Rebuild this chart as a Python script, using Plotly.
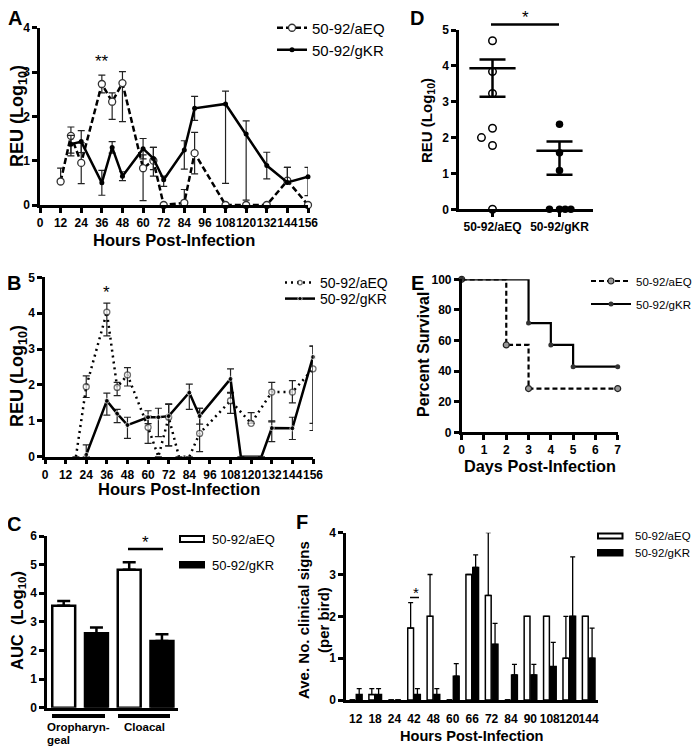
import plotly.graph_objects as go

# A: oropharyngeal shedding, REU (log10)
a_aeq_hours = [12, 18, 24, 36, 42, 48, 60, 66, 72, 84, 90, 108, 120, 132, 144, 156]
a_aeq_reu = [0.53, 1.56, 0.95, 2.73, 2.33, 2.75, 0.83, 1.0, 0, 0.05, 1.17, 0, 0, 0, 0.55, 0]
a_aeq_up = [0.30, 0.20, 0.45, 0.20, 0.20, 0.26, 0.30, 0.30, 0, 0.30, 0.47, 0, 0, 0, 0.30, 0]
a_aeq_dn = [0, 0.45, 0.47, 0.20, 0.40, 0.87, 0.73, 0.35, 0, 0, 0.47, 0, 0, 0, 0, 0]
a_gkr_hours = [18, 24, 36, 42, 48, 60, 66, 72, 84, 90, 108, 120, 132, 144, 156]
a_gkr_reu = [1.37, 1.43, 0.50, 1.30, 0.65, 1.27, 1.05, 0.57, 1.24, 2.18, 2.28, 1.60, 0.89, 0.51, 0.64]
a_gkr_up = [0.20, 0.25, 0.28, 0.13, 0.10, 0.23, 0.25, 0.08, 0.21, 0.27, 0.29, 0.30, 0.30, 0.34, 0.21]
a_gkr_dn = [0.20, 0.25, 0.28, 0.13, 0.10, 0.23, 0.25, 0.15, 0.43, 0.27, 1.79, 1.49, 0.30, 0, 0.43]

# B: cloacal shedding, REU (log10)
b_aeq_hours = [18, 24, 36, 42, 48, 60, 66, 72, 78, 84, 90, 108, 120, 132, 144, 156]
b_aeq_reu = [0, 1.95, 4.03, 1.93, 2.28, 0.82, 0, 1.10, 0, 0, 0.65, 1.56, 0.93, 1.80, 1.80, 2.45]
b_aeq_up = [0, 0.30, 0.25, 0.14, 0.20, 0.31, 0, 0.37, 0, 0, 0.70, 0.23, 0.30, 0.27, 0.32, 0.63]
b_aeq_dn = [0, 0.30, 0.66, 0.23, 0.31, 0.45, 0, 0.80, 0, 0, 0.51, 0.35, 0, 0.83, 0.30, 1.72]
b_gkr_hours = [24, 36, 42, 48, 60, 66, 72, 84, 90, 108, 114, 126, 132, 144, 156]
b_gkr_reu = [0.05, 1.56, 1.20, 0.88, 1.10, 1.10, 1.13, 1.79, 1.13, 2.17, 0, 0, 0.80, 0.79, 2.78]
b_gkr_up = [0.28, 0.21, 0.12, 0.22, 0.18, 0.25, 0.33, 0.23, 0.22, 0.28, 0, 0, 0.20, 0.31, 0.30]
b_gkr_dn = [0.05, 0.40, 0.25, 0.37, 0.18, 0.54, 0.83, 0.47, 0.22, 0.40, 0, 0, 0.38, 0.31, 1.85]

# C: AUC (log10)
c_groups = ["Oropharyngeal", "Cloacal"]
c_aeq_auc = [3.56, 4.82]
c_aeq_err = [0.17, 0.26]
c_gkr_auc = [2.60, 2.33]
c_gkr_err = [0.20, 0.24]

# D: REU (log10) per bird
d_groups = ["50-92/aEQ", "50-92/gKR"]
d_aeq_reu = [4.70, 3.84, 3.23, 2.26, 2.00, 1.78, 0]
d_aeq_jitter = [0, 0, 0, 0, -0.165, 0, 0]
d_gkr_reu = [2.37, 1.58, 1.08, 0, 0, 0, 0]
d_gkr_jitter = [0, 0, 0, -0.15, 0, 0.085, 0.17]
d_mean = [3.93, 1.63]
d_sem_up = [0.25, 0.26]
d_sem_dn = [0.79, 0.67]

# E: survival
e_aeq_days = [0, 2, 3, 7]
e_aeq_surv = [100, 57.1, 28.6, 28.6]
e_gkr_days = [0, 3, 4, 5, 7]
e_gkr_surv = [100, 71.4, 57.1, 42.9, 42.9]

# F: clinical signs per bird
f_hours = ["12", "18", "24", "42", "48", "60", "66", "72", "84", "90", "108", "120", "144"]
f_aeq = [0, 0.13, 0, 1.72, 2.0, 0, 3.0, 2.5, 0, 2.0, 2.0, 1.0, 2.0]
f_aeq_err = [0, 0.14, 0, 0.61, 1.0, 0, 0, 1.5, 0, 0, 0, 1.0, 0]
f_gkr = [0.13, 0.13, 0, 0.13, 0.13, 0.57, 3.17, 1.33, 0.6, 0.6, 0.8, 2.0, 1.0]
f_gkr_err = [0.14, 0.14, 0, 0.14, 0.14, 0.30, 0.30, 0.50, 0.25, 0.25, 0.58, 1.42, 0.72]

# the page body has an 8px margin: keep the figure inside the window without scrolling
OFF = 8
W, H = 700 - 2 * OFF, 754 - 2 * OFF
FONT = "Liberation Sans, Arial, sans-serif"


def fx(p):
    return (p - OFF) / W


def fy(p):
    return 1 - (p - OFF) / H


def ax(**kw):
    d = dict(showline=True, linecolor="black", linewidth=2.5, ticks="outside", ticklen=5,
             tickwidth=2.5, tickcolor="black", showgrid=False, zeroline=False, tickangle=0,
             tickfont=dict(family=FONT, size=12, color="black", weight="bold"))
    d.update(kw)
    return d


def note(text, x, y, size, angle=0, bold=True, xanchor="center", align="center"):
    return dict(text=text, x=fx(x), y=fy(y), xref="paper", yref="paper", showarrow=False,
                textangle=angle, xanchor=xanchor, yanchor="middle", align=align,
                font=dict(family=FONT, size=size, color="black",
                          weight="bold" if bold else "normal"))


def leg(x, y, size, itemwidth=30):
    return dict(x=fx(x), y=fy(y), xanchor="left", yanchor="middle", xref="paper", yref="paper",
                font=dict(family=FONT, size=size, color="black"), bgcolor="rgba(0,0,0,0)",
                borderwidth=0, itemwidth=itemwidth)


def errs(up, dn, thick=1.2, width=3.5, color="#222"):
    return dict(type="data", symmetric=False, array=up, arrayminus=dn, color=color,
                thickness=thick, width=width)


fig = go.Figure()

# ---- A ----
fig.add_trace(go.Scatter(
    x=a_aeq_hours, y=a_aeq_reu, name="50-92/aEQ", xaxis="x", yaxis="y", mode="lines+markers",
    line=dict(color="black", width=2.5, dash="6px,3px"),
    marker=dict(size=7, color="white", line=dict(color="#333", width=1.3)),
    error_y=errs(a_aeq_up, a_aeq_dn), cliponaxis=False, legend="legend"))
fig.add_trace(go.Scatter(
    x=a_gkr_hours, y=a_gkr_reu, name="50-92/gKR", xaxis="x", yaxis="y", mode="lines+markers",
    line=dict(color="black", width=2.5), marker=dict(size=5, color="black"),
    error_y=errs(a_gkr_up, a_gkr_dn), cliponaxis=False, legend="legend2"))

# ---- B ----
fig.add_trace(go.Scatter(
    x=b_aeq_hours, y=b_aeq_reu, name="50-92/aEQ", xaxis="x2", yaxis="y2", mode="lines+markers",
    line=dict(color="black", width=2.5, dash="2px,4px"),
    marker=dict(size=[0 if v == 0 else 6 for v in b_aeq_reu], color="white",
                line=dict(color="#333", width=1.3)),
    error_y=errs(b_aeq_up, b_aeq_dn), cliponaxis=False, legend="legend3"))
fig.add_trace(go.Scatter(
    x=b_gkr_hours, y=b_gkr_reu, name="50-92/gKR", xaxis="x2", yaxis="y2", mode="lines+markers",
    line=dict(color="black", width=2.5),
    marker=dict(size=[0 if v == 0 else 5 for v in b_gkr_reu], color="black"),
    error_y=errs(b_gkr_up, b_gkr_dn), cliponaxis=False, legend="legend4"))

# ---- C ----
fig.add_trace(go.Bar(
    x=c_groups, y=c_aeq_auc, xaxis="x3", yaxis="y3", width=0.35, offset=-0.42,
    marker=dict(color="white", line=dict(color="black", width=2.5)), showlegend=False,
    error_y=errs(c_aeq_err, [0] * len(c_aeq_err), thick=2.5, width=6.5, color="black")))
fig.add_trace(go.Bar(
    x=c_groups, y=c_gkr_auc, xaxis="x3", yaxis="y3", width=0.35, offset=0.08,
    marker=dict(color="black", line=dict(color="black", width=2.5)), showlegend=False,
    error_y=errs(c_gkr_err, [0] * len(c_gkr_err), thick=2.5, width=6.5, color="black")))

# ---- D ----
fig.add_trace(go.Scatter(
    x=[0 + j for j in d_aeq_jitter], y=d_aeq_reu, xaxis="x4", yaxis="y4", mode="markers",
    marker=dict(size=7.5, color="white", line=dict(color="black", width=1.5)),
    cliponaxis=False, showlegend=False))
fig.add_trace(go.Scatter(
    x=[1 + j for j in d_gkr_jitter], y=d_gkr_reu, xaxis="x4", yaxis="y4", mode="markers",
    marker=dict(size=7.5, color="black"), cliponaxis=False, showlegend=False))
fig.add_trace(go.Scatter(
    x=list(range(len(d_groups))), y=d_mean, xaxis="x4", yaxis="y4", mode="markers",
    marker=dict(symbol="line-ew", size=33, line=dict(color="black", width=2.5)),
    error_y=errs(d_sem_up, d_sem_dn, thick=2.5, width=13, color="black"),
    cliponaxis=False, showlegend=False))

# ---- E ----
fig.add_trace(go.Scatter(
    x=e_aeq_days, y=e_aeq_surv, name="50-92/aEQ", xaxis="x5", yaxis="y5", mode="lines+markers",
    line=dict(color="black", width=2.2, dash="5px,3px", shape="hv"),
    marker=dict(size=6, color="#999", line=dict(color="#222", width=1.2)),
    cliponaxis=False, legend="legend5"))
fig.add_trace(go.Scatter(
    x=e_gkr_days, y=e_gkr_surv, name="50-92/gKR", xaxis="x5", yaxis="y5", mode="lines+markers",
    line=dict(color="black", width=2.2, shape="hv"),
    marker=dict(size=5, color="#333"), cliponaxis=False, legend="legend6"))

# ---- F ----
fig.add_trace(go.Bar(
    x=f_hours, y=f_aeq, xaxis="x6", yaxis="y6", width=0.3, offset=-0.32,
    marker=dict(color="white", line=dict(color="black", width=1.5)), showlegend=False,
    error_y=errs(f_aeq_err, [0] * len(f_aeq_err), thick=1.3, width=2.5, color="black")))
fig.add_trace(go.Bar(
    x=f_hours, y=f_gkr, xaxis="x6", yaxis="y6", width=0.3, offset=0.03,
    marker=dict(color="black", line=dict(color="black", width=1.5)), showlegend=False,
    error_y=errs(f_gkr_err, [0] * len(f_gkr_err), thick=1.3, width=2.5, color="black")))

annotations = [
    note("A", 15, 18, 20), note("B", 14, 283, 20), note("C", 14, 524, 20),
    note("D", 417, 18, 20), note("E", 417, 283, 20), note("F", 302, 522, 20),
    note("REU (Log<sub>10</sub>)", 18, 116, 18, angle=-90),
    note("Hours Post-Infection", 174, 240, 16.5),
    note("REU (Log<sub>10</sub>)", 18, 376, 18, angle=-90),
    note("Hours Post-Infection", 179, 489, 16.5),
    note("AUC  (Log<sub>10</sub>)", 18, 621, 16.5, angle=-90),
    note("Oropharyn-", 45, 726.5, 11.5, xanchor="left"),
    note("geal", 45, 739.7, 11.5, xanchor="left"),
    note("Cloacal", 122, 726.5, 11.5, xanchor="left"),
    note("REU (Log<sub>10</sub>)", 427, 121, 15, angle=-90),
    note("Percent Survival", 424, 355, 16, angle=-90),
    note("Days Post-Infection", 540, 466, 16.3),
    note("Ave. No. clinical signs<br>(per bird)", 313, 620, 15, angle=-90),
    note("Hours Post-Infection", 472, 736, 14.6),
    note("**", 102, 62, 17, bold=False),
    note("*", 106, 292, 17, bold=False),
    note("*", 145.5, 542, 17, bold=False),
    note("*", 525, 17, 17, bold=False),
    note("*", 416, 592, 15, bold=False),
    note("50-92/aEQ", 210, 539, 13, bold=False, xanchor="left"),
    note("50-92/gKR", 210, 565, 13, bold=False, xanchor="left"),
    note("50-92/aEQ", 633, 536, 11.5, bold=False, xanchor="left"),
    note("50-92/gKR", 633, 553, 11.5, bold=False, xanchor="left"),
]


def hline(x0, x1, y, w):
    return dict(type="line", xref="paper", yref="paper", x0=fx(x0), x1=fx(x1), y0=fy(y), y1=fy(y),
                line=dict(color="black", width=w))


def box(x0, x1, y0, y1, fill):
    return dict(type="rect", xref="paper", yref="paper", x0=fx(x0), x1=fx(x1), y0=fy(y0), y1=fy(y1),
                line=dict(color="black", width=2), fillcolor=fill)


shapes = [
    hline(52, 105, 716, 4), hline(118, 170, 716, 4),
    hline(128, 163, 549, 2.5), hline(491, 559, 24.5, 2.5), hline(410, 419, 597.5, 1.5),
    box(180, 204, 536, 542, "white"), box(180, 204, 562, 567.5, "black"),
    box(598, 622.5, 533.5, 538.5, "white"), box(598, 622.5, 550, 555.5, "black"),
]

fig.update_layout(
    width=W, height=H, autosize=False, margin=dict(l=0, r=0, t=0, b=0, autoexpand=False),
    paper_bgcolor="white", plot_bgcolor="white", barmode="overlay",
    font=dict(family=FONT, color="black"),
    xaxis=ax(domain=[fx(40), fx(308)], range=[0, 156], tick0=0, dtick=12, anchor="y"),
    yaxis=ax(domain=[fy(205), fy(27.7)], range=[0, 4], dtick=1, anchor="x"),
    xaxis2=ax(domain=[fx(45), fx(313)], range=[0, 156], tick0=0, dtick=12, anchor="y2"),
    yaxis2=ax(domain=[fy(456.7), fy(277.3)], range=[0, 5], dtick=1, anchor="x2"),
    xaxis3=ax(domain=[fx(47), fx(178)], type="category", range=[-0.5, 1.5], ticks="",
              showticklabels=False, anchor="y3"),
    yaxis3=ax(domain=[fy(707.7), fy(536)], range=[0, 6], dtick=1, anchor="x3"),
    xaxis4=ax(domain=[fx(459), fx(593)], range=[-0.5, 1.5], tickvals=list(range(len(d_groups))),
              ticktext=d_groups, anchor="y4"),
    yaxis4=ax(domain=[fy(209.3), fy(30)], range=[0, 5], dtick=1, anchor="x4"),
    xaxis5=ax(domain=[fx(461.7), fx(617.7)], range=[0, 7], dtick=1, anchor="y5"),
    yaxis5=ax(domain=[fy(432.3), fy(279.3)], range=[0, 100], dtick=20, anchor="x5"),
    xaxis6=ax(domain=[fx(346), fx(598.3)], type="category", ticks="", ticklabelstandoff=6,
              linewidth=2.5, anchor="y6"),
    yaxis6=ax(domain=[fy(700), fy(532.7)], range=[0, 4], dtick=1, anchor="x6"),
    legend=leg(272, 28, 15), legend2=leg(272, 50, 15),
    legend3=leg(280, 283, 14), legend4=leg(280, 299, 14),
    legend5=leg(586, 281, 11.5, 40), legend6=leg(586, 304, 11.5, 40),
    annotations=annotations, shapes=shapes,
)

fig.write_html("out.html")
